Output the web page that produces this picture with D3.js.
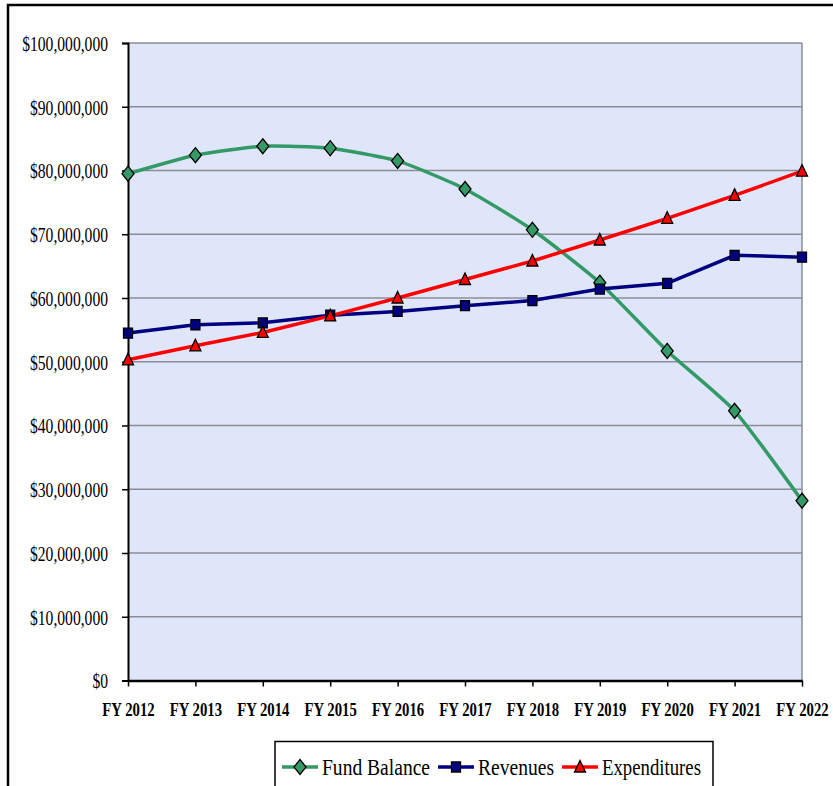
<!DOCTYPE html>
<html>
<head>
<meta charset="utf-8">
<script src="https://cdn.jsdelivr.net/npm/d3@7"></script>
<style>
  body { margin: 0; background: #fff; }
  svg { display: block; }
</style>
</head>
<body>
<svg id="chart" width="833" height="786" font-family="'Liberation Serif', 'Times New Roman', serif"></svg>
<script>
// Fiscal years on the x axis.
var years = ["FY 2012", "FY 2013", "FY 2014", "FY 2015", "FY 2016", "FY 2017",
             "FY 2018", "FY 2019", "FY 2020", "FY 2021", "FY 2022"];

// Series values, in dollars.
var fundBalance  = [79.5e6, 82.4e6, 83.8e6, 83.5e6, 81.5e6, 77.1e6, 70.7e6, 62.4e6, 51.7e6, 42.3e6, 28.2e6];
var revenues     = [54.5e6, 55.8e6, 56.1e6, 57.3e6, 57.9e6, 58.8e6, 59.6e6, 61.4e6, 62.3e6, 66.7e6, 66.4e6];
var expenditures = [50.3e6, 52.5e6, 54.6e6, 57.2e6, 60.0e6, 62.9e6, 65.8e6, 69.1e6, 72.5e6, 76.1e6, 79.9e6];

// Y axis tick values.
var yTicks = d3.range(0, 100e6 + 1, 10e6);

var serif = "'Liberation Serif', 'Times New Roman', serif";

var series = [
    {name: "Fund Balance", values: fundBalance, color: "#339966", marker: "diamond", smooth: true, textLen: 108},
    {name: "Revenues", values: revenues, color: "#000080", marker: "square", smooth: false, textLen: 76},
    {name: "Expenditures", values: expenditures, color: "#ff0000", marker: "triangle", smooth: false, textLen: 99}
];

var svg = d3.select("#chart");

// Outer frame of the chart object.
svg.append("rect")
    .attr("x", 8).attr("y", 5)
    .attr("width", 840).attr("height", 800)
    .attr("fill", "#fff")
    .attr("stroke", "#000").attr("stroke-width", 2.5);

var plot = {left: 128, right: 802, top: 43, bottom: 680.5};

var x = d3.scalePoint().domain(years).range([plot.left, plot.right]);
var y = d3.scaleLinear().domain([0, 100e6]).range([plot.bottom, plot.top]);

// Plot area background.
svg.append("rect")
    .attr("x", plot.left).attr("y", plot.top)
    .attr("width", plot.right - plot.left).attr("height", plot.bottom - plot.top)
    .attr("fill", "#e0e6fa");

// Horizontal gridlines.
svg.append("g").selectAll("line")
    .data(yTicks.filter(function(d) { return d > 0; }))
    .join("line")
    .attr("x1", plot.left).attr("x2", plot.right)
    .attr("y1", function(d) { return y(d); })
    .attr("y2", function(d) { return y(d); })
    .attr("stroke", "#8c8c94").attr("stroke-width", 1.5);

// Right border of the plot area.
svg.append("line")
    .attr("x1", plot.right).attr("x2", plot.right)
    .attr("y1", plot.top).attr("y2", plot.bottom)
    .attr("stroke", "#8c8c94").attr("stroke-width", 1.5);

// Y axis.
var yAxis = svg.append("g")
    .attr("transform", "translate(" + plot.left + ",0)")
    .call(d3.axisLeft(y)
        .tickValues(yTicks)
        .tickSize(6)
        .tickFormat(function(d) { return "$" + d3.format(",")(d); }));
yAxis.attr("font-family", serif);
yAxis.select(".domain").attr("stroke", "#000").attr("stroke-width", 2);
yAxis.selectAll(".tick line").attr("stroke", "#000").attr("stroke-width", 1.5);
yAxis.selectAll(".tick text")
    .attr("x", 0)
    .attr("dy", "0.34em")
    .attr("transform", "translate(-20,0) scale(0.71,1)")
    .attr("font-family", serif)
    .attr("font-size", 22)
    .attr("fill", "#000");

// X axis.
var xAxis = svg.append("g")
    .attr("transform", "translate(0," + plot.bottom + ")")
    .call(d3.axisBottom(x).tickSize(6).tickSizeOuter(0));
xAxis.attr("font-family", serif);
xAxis.select(".domain").attr("stroke", "#000").attr("stroke-width", 2.5);
xAxis.selectAll(".tick line").attr("stroke", "#000").attr("stroke-width", 1.5);
xAxis.selectAll(".tick text")
    .attr("y", 0)
    .attr("dy", 0)
    .attr("transform", "translate(0,35) scale(0.82,1)")
    .attr("font-family", serif)
    .attr("font-size", 18)
    .attr("font-weight", "bold")
    .attr("fill", "#000");

// Marker shapes.
function markerPath(type) {
    if (type === "diamond") return "M0,-7.5L6,0L0,7.5L-6,0Z";
    if (type === "square") return "M-4.5,-5H4.5V5H-4.5Z";
    return "M0,-6.5L5.5,5L-5.5,5Z";
}

// Lines and markers.
series.forEach(function(s) {
    var line = d3.line()
        .x(function(d, i) { return x(years[i]); })
        .y(function(d) { return y(d); })
        .curve(s.smooth ? d3.curveCardinal.tension(0.45) : d3.curveLinear);

    svg.append("path")
        .datum(s.values)
        .attr("d", line)
        .attr("fill", "none")
        .attr("stroke", s.color)
        .attr("stroke-width", 3.5);
});

series.forEach(function(s) {
    svg.append("g").selectAll("path")
        .data(s.values)
        .join("path")
        .attr("d", markerPath(s.marker))
        .attr("transform", function(d, i) { return "translate(" + x(years[i]) + "," + y(d) + ")"; })
        .attr("fill", s.color)
        .attr("stroke", "#000")
        .attr("stroke-width", 1.3);
});

// Legend.
var legend = svg.append("g");
legend.append("rect")
    .attr("x", 275).attr("y", 741.5)
    .attr("width", 438).attr("height", 60)
    .attr("fill", "#fff")
    .attr("stroke", "#000").attr("stroke-width", 1.5);

var lx = 282, ly = 767;
series.forEach(function(s) {
    var item = legend.append("g").attr("transform", "translate(" + lx + "," + ly + ")");
    item.append("line")
        .attr("x1", 0).attr("x2", 36)
        .attr("stroke", s.color).attr("stroke-width", 3.5);
    item.append("path")
        .attr("d", markerPath(s.marker))
        .attr("transform", "translate(18,0)")
        .attr("fill", s.color)
        .attr("stroke", "#000").attr("stroke-width", 1.3);
    item.append("text")
        .attr("x", 40).attr("y", 8)
        .attr("font-family", serif)
        .attr("font-size", 24)
        .attr("textLength", s.textLen)
        .attr("lengthAdjust", "spacingAndGlyphs")
        .attr("fill", "#000")
        .text(s.name);
    lx += 40 + s.textLen + 8;
});
</script>
</body>
</html>
